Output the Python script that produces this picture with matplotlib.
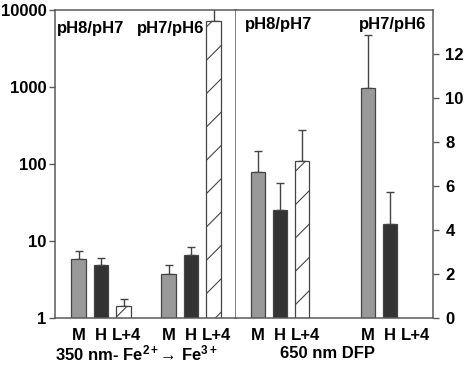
import matplotlib
matplotlib.use('Agg')
import matplotlib.pyplot as plt
import matplotlib.transforms as mtransforms
import numpy as np

matplotlib.rc('font', family=['Liberation Sans', 'DejaVu Sans'], weight='bold', size=12)
matplotlib.rc('mathtext', fontset='custom', rm='Liberation Sans:bold',
              bf='Liberation Sans:bold', it='Liberation Sans:bold')
matplotlib.rc('hatch', color='#555555', linewidth=0.8)

# categories
groups = ['M', 'H', 'L+4']
ph_labels = ['pH8/pH7', 'pH7/pH6']

# 350 nm Fe2+ -> Fe3+ (log scale), two pH groups
fe_pos = [0, 1, 2, 4, 5, 6]
fe_vals = [5.84, 4.88, 1.43, 3.73, 6.58, 7200]
fe_err = [1.56, 1.12, 0.34, 1.15, 1.8, 10000]

# 650 nm DFP (linear scale), L+4 missing in second group
dfp_pos = [0, 1, 2, 5, 6]
dfp_vals = [6.62, 4.89, 7.12, 10.46, 4.29]
dfp_err = [0.96, 1.23, 1.42, 2.42, 1.42]
dfp_tick_pos = [0, 1, 2, 5, 6, 7]

face = {'M': '#999999', 'H': '#333333', 'L+4': 'white'}
hatch = {'M': None, 'H': None, 'L+4': '/'}
frame = '#5a5a5a'


def style_bars(ax, pos, vals, err, names):
    for p, v, e, n in zip(pos, vals, err, names):
        ax.bar(p, v, width=0.64, color=face[n], edgecolor='#444444',
               linewidth=0.9, hatch=hatch[n], zorder=2)
        ax.errorbar(p, v, yerr=[[0], [e]], fmt='none', ecolor='#444444',
                    elinewidth=1, capsize=3, capthick=1, zorder=1)


def nudge_labels(ax):
    # the L+4 labels sit a little right of their bars
    for lab in ax.get_xticklabels():
        if lab.get_text() == 'L+4':
            lab.set_transform(lab.get_transform() + mtransforms.ScaledTranslation(
                3 / 100, 0, ax.figure.dpi_scale_trans))


fig = plt.figure(figsize=(4.68, 3.69), dpi=100)
ax1 = fig.add_axes([55 / 468, 51 / 369, 181 / 468, 308 / 369])
ax2 = fig.add_axes([236 / 468, 51 / 369, 197 / 468, 308 / 369])

fe_names = groups + groups
style_bars(ax1, fe_pos, fe_vals, fe_err, fe_names)
ax1.set_yscale('log')
ax1.set_ylim(1, 10000)
ax1.set_xlim(-1.05, 7.0)
ax1.set_yticks([1, 10, 100, 1000, 10000])
ax1.set_yticklabels(['1', '10', '100', '1000', '10000'])
ax1.minorticks_off()
ax1.set_xticks(fe_pos)
ax1.set_xticklabels(fe_names)
ax1.tick_params(axis='x', length=0, pad=7)
ax1.tick_params(axis='y', length=4, width=1, color=frame, pad=2)
ax1.text(-0.95, 0.94, ph_labels[0], transform=ax1.get_xaxis_transform(),
         ha='left', va='center')
ax1.text(4.1, 0.94, ph_labels[1], transform=ax1.get_xaxis_transform(),
         ha='center', va='center')

dfp_names = groups + ['M', 'H']
style_bars(ax2, dfp_pos, dfp_vals, dfp_err, dfp_names)
ax2.set_ylim(0, 14)
ax2.set_xlim(-1, 7.95)
ax2.yaxis.tick_right()
ax2.set_yticks(np.arange(0, 13, 2))
ax2.set_xticks(dfp_tick_pos)
ax2.set_xticklabels(groups + groups)
ax2.tick_params(axis='x', length=0, pad=7)
ax2.tick_params(axis='y', length=4, width=1, color=frame, pad=5)
ax2.spines['left'].set_visible(False)
ax2.text(0.95, 0.952, ph_labels[0], transform=ax2.get_xaxis_transform(),
         ha='center', va='center')
ax2.text(6.1, 0.952, ph_labels[1], transform=ax2.get_xaxis_transform(),
         ha='center', va='center')

for ax in (ax1, ax2):
    nudge_labels(ax)
    for s in ax.spines.values():
        s.set_color(frame)
        s.set_linewidth(1.1)

fig.text(136 / 468, 1 - 353 / 369, r'350 nm- Fe$^{2+}$→ Fe$^{3+}$',
         ha='center', va='center')
fig.text(328 / 468, 1 - 353 / 369, '650 nm DFP', ha='center', va='center')

fig.savefig('out.png', dpi=100)
